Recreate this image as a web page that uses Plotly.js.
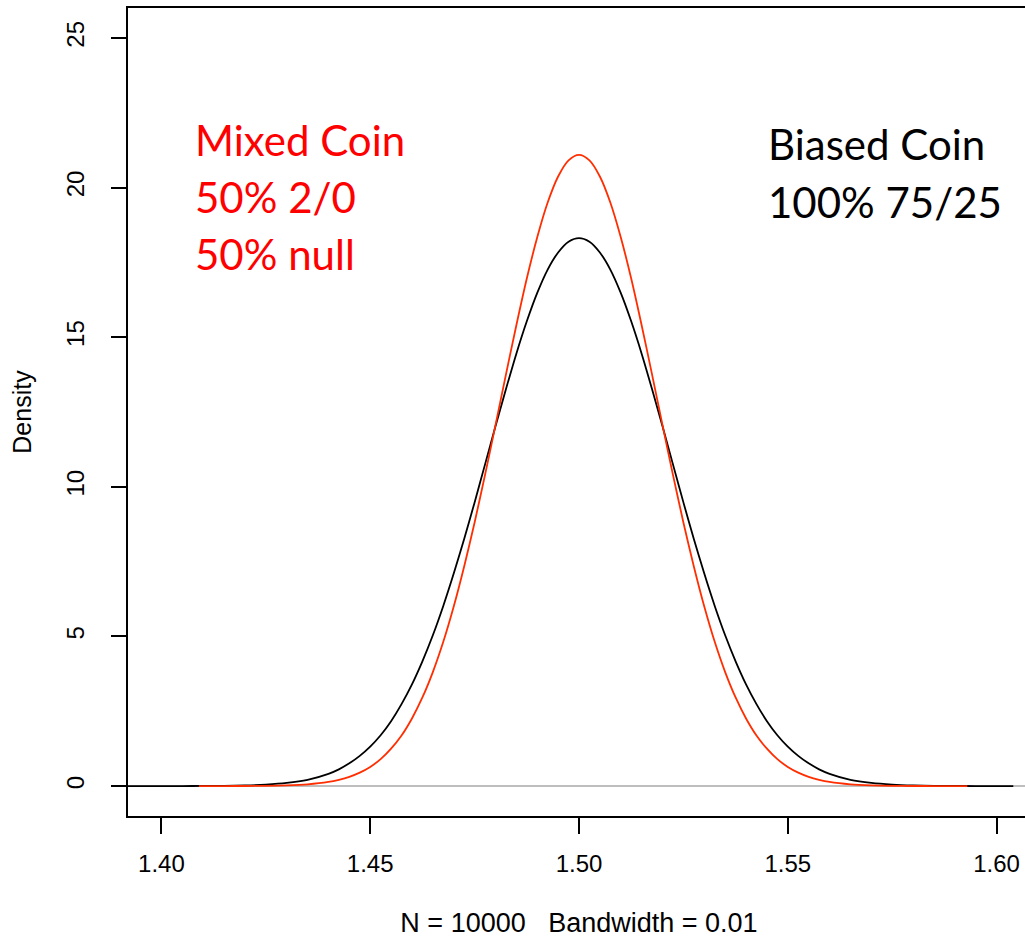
<!DOCTYPE html>
<html>
<head>
<meta charset="utf-8">
<script src="https://cdn.plot.ly/plotly-3.0.1.min.js"></script>
<style>
  html, body { margin: 0; padding: 0; overflow: hidden; background: #fff; }
  #chart { width: 1035px; height: 938px; }
</style>
</head>
<body>
<div id="chart"></div>
<script>
// Biased coin (100% 75/25) density
const biasedX = [1.392,1.400,1.405,1.410,1.415,1.420,1.425,1.430,1.435,1.440,1.4425,1.445,1.4475,1.450,1.4525,1.455,1.4575,1.460,1.4625,1.465,1.4675,1.470,1.4725,1.475,1.4775,1.480,1.4825,1.485,1.4875,1.490,1.4925,1.495,1.4975,1.500,1.5025,1.505,1.5075,1.510,1.5125,1.515,1.5175,1.520,1.5225,1.525,1.5275,1.530,1.5325,1.535,1.5375,1.540,1.5425,1.545,1.5475,1.550,1.5525,1.555,1.5575,1.560,1.565,1.570,1.575,1.580,1.585,1.590,1.595,1.600,1.604];
const biasedY = [0.0001,0.0004,0.001,0.0035,0.009,0.022,0.05,0.105,0.21,0.41,0.56,0.76,1.01,1.32,1.70,2.17,2.74,3.40,4.17,5.04,6.02,7.10,8.26,9.48,10.75,12.02,13.26,14.45,15.53,16.48,17.26,17.83,18.19,18.31,18.19,17.83,17.26,16.48,15.53,14.45,13.26,12.02,10.75,9.48,8.26,7.10,6.02,5.04,4.17,3.40,2.74,2.17,1.70,1.32,1.01,0.76,0.56,0.41,0.21,0.105,0.05,0.022,0.009,0.0035,0.001,0.0004,0.0001];

// Mixed coin (50% 2/0, 50% null) density
const mixedX = [1.409,1.415,1.420,1.425,1.430,1.435,1.440,1.4425,1.445,1.4475,1.450,1.4525,1.455,1.4575,1.460,1.4625,1.465,1.4675,1.470,1.4725,1.475,1.4775,1.480,1.4825,1.485,1.4875,1.490,1.4925,1.495,1.4975,1.500,1.5025,1.505,1.5075,1.510,1.5125,1.515,1.5175,1.520,1.5225,1.525,1.5275,1.530,1.5325,1.535,1.5375,1.540,1.5425,1.545,1.5475,1.550,1.5525,1.555,1.5575,1.560,1.565,1.570,1.575,1.580,1.585,1.593];
const mixedY = [0.0003,0.001,0.003,0.008,0.023,0.058,0.138,0.21,0.31,0.45,0.64,0.90,1.25,1.69,2.26,2.96,3.81,4.82,6.00,7.34,8.81,10.40,12.06,13.75,15.40,16.96,18.34,19.50,20.37,20.91,21.09,20.91,20.37,19.50,18.34,16.96,15.40,13.75,12.06,10.40,8.81,7.34,6.00,4.82,3.81,2.96,2.26,1.69,1.25,0.90,0.64,0.45,0.31,0.21,0.138,0.058,0.023,0.008,0.003,0.001,0.0003];

const xTicks = [1.40, 1.45, 1.50, 1.55, 1.60];
const xTickText = ["1.40", "1.45", "1.50", "1.55", "1.60"];
const yTicks = [0, 5, 10, 15, 20, 25];
const yTickText = ["0", "5", "10", "15", "20", "25"];

const mixedLabel = ["Mixed Coin", "50% 2/0", "50% null"];
const biasedLabel = ["Biased Coin", "100% 75/25"];

const traces = [
  { x: biasedX, y: biasedY, type: "scatter", mode: "lines", name: "Biased Coin",
    line: { color: "#000000", width: 1.8, shape: "spline", smoothing: 0.8 }, hoverinfo: "skip" },
  { x: mixedX, y: mixedY, type: "scatter", mode: "lines", name: "Mixed Coin",
    line: { color: "#ff2e00", width: 1.8, shape: "spline", smoothing: 0.8 }, hoverinfo: "skip" }
];

const tickFont = { family: "Liberation Sans, Arial, sans-serif", size: 24, color: "#000" };
const xTitleFont = { family: "Liberation Sans, Arial, sans-serif", size: 27, color: "#000" };
const yTitleFont = { family: "Liberation Sans, Arial, sans-serif", size: 25, color: "#000" };
const noteFont = { family: "Lato, Open Sans, sans-serif", size: 42 };

const annotations = [];
const mixedYs = [140, 197, 254];
mixedLabel.forEach((t, i) => annotations.push({
  text: t, xref: "x", yref: "y",
  x: 1.392 + (193 - 128) / 4175.9, y: (786.1 - mixedYs[i]) / 29.93,
  xanchor: "left", yanchor: "middle", showarrow: false,
  font: Object.assign({ color: "#ff0000" }, noteFont)
}));
const biasedYs = [144, 202];
biasedLabel.forEach((t, i) => annotations.push({
  text: t, xref: "x", yref: "y",
  x: 1.392 + (766 - 128) / 4175.9, y: (786.1 - biasedYs[i]) / 29.93,
  xanchor: "left", yanchor: "middle", showarrow: false,
  font: Object.assign({ color: "#000000" }, noteFont)
}));

const layout = {
  width: 1035, height: 938,
  margin: { l: 128, r: 5, t: 8, b: 122, pad: 0 },
  paper_bgcolor: "#ffffff", plot_bgcolor: "#ffffff",
  showlegend: false,
  xaxis: {
    range: [1.392, 1.608], tickmode: "array", tickvals: xTicks, ticktext: xTickText,
    showgrid: false, zeroline: false, showline: true, mirror: true,
    linecolor: "#000", linewidth: 2, ticks: "outside", ticklen: 16, tickwidth: 2, tickcolor: "#000",
    ticklabelstandoff: 9, tickfont: tickFont,
    title: { text: "N = 10000\u00a0\u00a0\u00a0Bandwidth = 0.01", font: xTitleFont, standoff: 49 },
    automargin: false
  },
  yaxis: {
    range: [-1, 26], tickmode: "array", tickvals: yTicks, ticktext: yTickText, tickangle: -90,
    showgrid: false, zeroline: true, zerolinecolor: "#bebebe", zerolinewidth: 1.5,
    showline: true, mirror: true,
    linecolor: "#000", linewidth: 2, ticks: "outside", ticklen: 15, tickwidth: 2, tickcolor: "#000",
    ticklabelstandoff: 17, tickfont: tickFont,
    title: { text: "Density", font: yTitleFont, standoff: 24 },
    automargin: false
  },
  annotations: annotations
};

Plotly.newPlot("chart", traces, layout, { staticPlot: true, displayModeBar: false });
</script>
</body>
</html>
